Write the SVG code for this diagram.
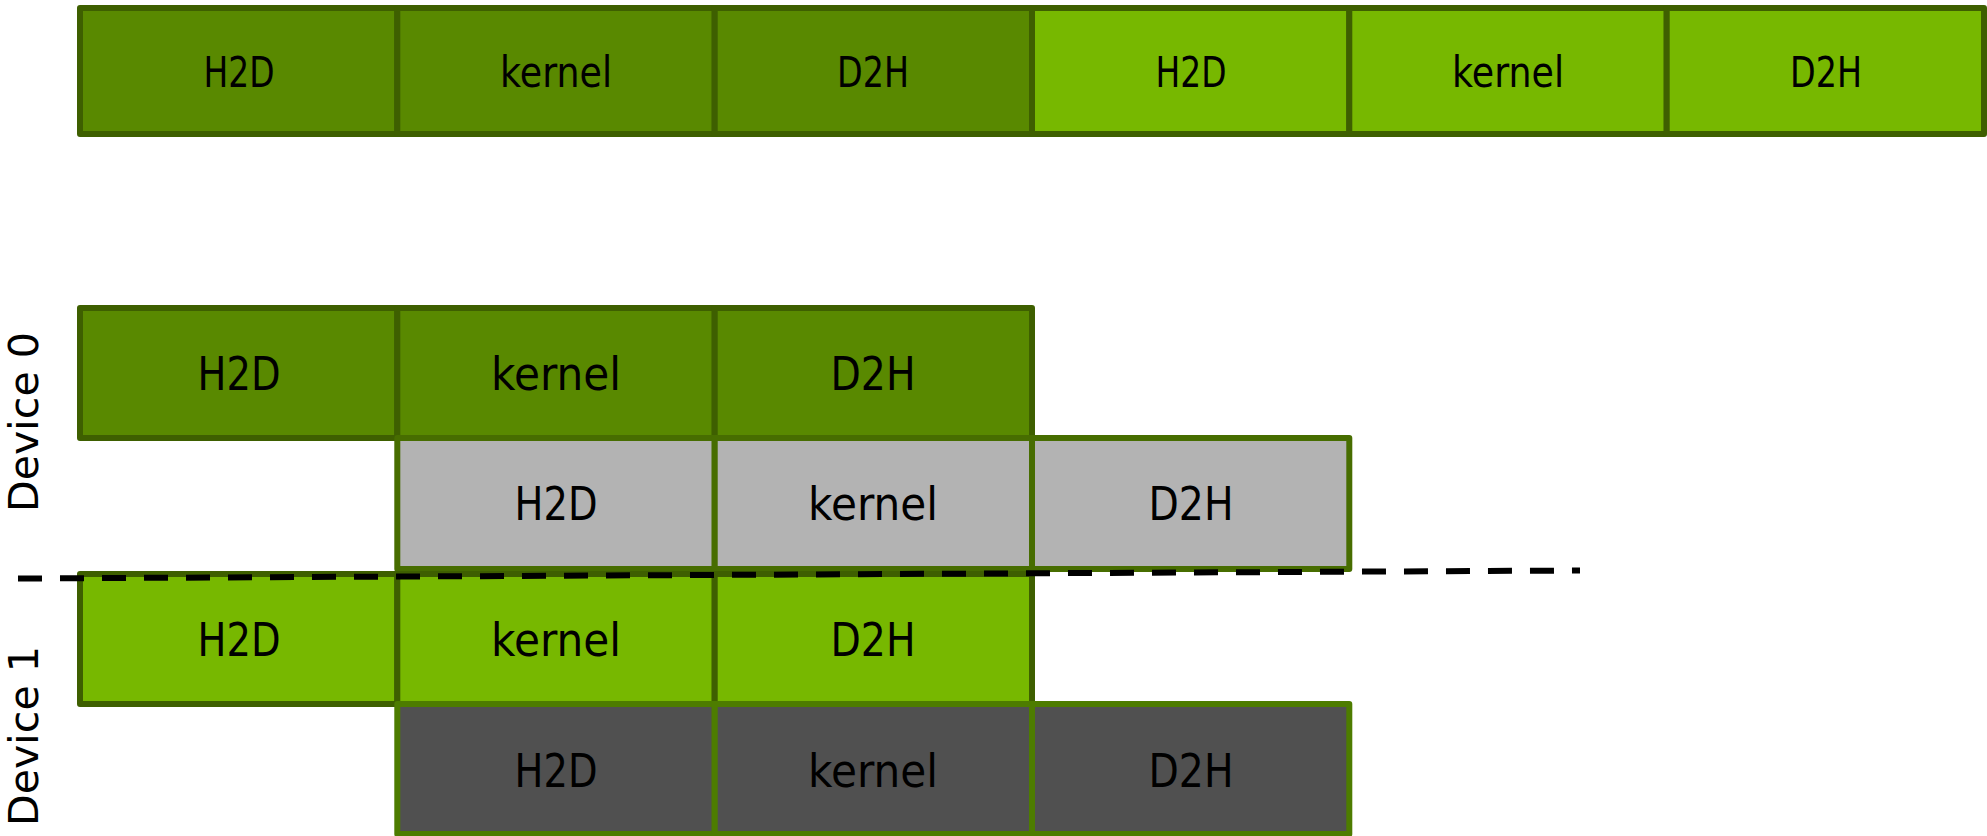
<svg xmlns="http://www.w3.org/2000/svg" width="1987" height="836" viewBox="0 0 1987 836">
<style>
.c{stroke-width:6;stroke-linejoin:round}
.dk{fill:#598900;stroke:#3e5f00}
.br{fill:#77b800;stroke:#3e5f00}
.gy{fill:#b3b3b3;stroke:#476d00}
.dg{fill:#505050;stroke:#4d7c00}
.t{font-family:"DejaVu Sans","Liberation Sans",sans-serif;fill:#000;text-anchor:middle}
.ts{font-size:42px}
.tl{font-size:46px}
.lab{font-family:"DejaVu Sans","Liberation Sans",sans-serif;font-size:40px;fill:#000;text-anchor:middle}
</style>
<rect width="1987" height="836" fill="#fff"/>
<g id="row-top">
<g id="top-h2d-1"><rect class="c dk" x="80" y="8" width="317.3" height="126"/><text class="t ts" x="239" y="87" textLength="71" lengthAdjust="spacingAndGlyphs">H2D</text></g>
<g id="top-kernel-1"><rect class="c dk" x="397.3" y="8" width="317.4" height="126"/><text class="t ts" x="556" y="87" textLength="112" lengthAdjust="spacingAndGlyphs">kernel</text></g>
<g id="top-d2h-1"><rect class="c dk" x="714.7" y="8" width="317.3" height="126"/><text class="t ts" x="873" y="87" textLength="72" lengthAdjust="spacingAndGlyphs">D2H</text></g>
<g id="top-h2d-2"><rect class="c br" x="1032" y="8" width="317.3" height="126"/><text class="t ts" x="1191" y="87" textLength="71" lengthAdjust="spacingAndGlyphs">H2D</text></g>
<g id="top-kernel-2"><rect class="c br" x="1349.3" y="8" width="317.4" height="126"/><text class="t ts" x="1508" y="87" textLength="112" lengthAdjust="spacingAndGlyphs">kernel</text></g>
<g id="top-d2h-2"><rect class="c br" x="1666.7" y="8" width="317.3" height="126"/><text class="t ts" x="1826" y="87" textLength="72" lengthAdjust="spacingAndGlyphs">D2H</text></g>
</g>
<g id="dev0-row1">
<g id="d0r1-h2d"><rect class="c dk" x="80" y="308" width="317.3" height="130"/><text class="t tl" x="239" y="390" textLength="83" lengthAdjust="spacingAndGlyphs">H2D</text></g>
<g id="d0r1-kernel"><rect class="c dk" x="397.3" y="308" width="317.4" height="130"/><text class="t tl" x="556" y="390" textLength="130" lengthAdjust="spacingAndGlyphs">kernel</text></g>
<g id="d0r1-d2h"><rect class="c dk" x="714.7" y="308" width="317.3" height="130"/><text class="t tl" x="873" y="390" textLength="85" lengthAdjust="spacingAndGlyphs">D2H</text></g>
</g>
<g id="dev0-row2">
<g id="d0r2-h2d"><rect class="c gy" x="397.3" y="438" width="317.4" height="131"/><text class="t tl" x="556" y="520" textLength="83" lengthAdjust="spacingAndGlyphs">H2D</text></g>
<g id="d0r2-kernel"><rect class="c gy" x="714.7" y="438" width="317.3" height="131"/><text class="t tl" x="873" y="520" textLength="130" lengthAdjust="spacingAndGlyphs">kernel</text></g>
<g id="d0r2-d2h"><rect class="c gy" x="1032" y="438" width="317.3" height="131"/><text class="t tl" x="1191" y="520" textLength="85" lengthAdjust="spacingAndGlyphs">D2H</text></g>
</g>
<g id="dev1-row1">
<g id="d1r1-h2d"><rect class="c br" x="80" y="574" width="317.3" height="130"/><text class="t tl" x="239" y="656" textLength="83" lengthAdjust="spacingAndGlyphs">H2D</text></g>
<g id="d1r1-kernel"><rect class="c br" x="397.3" y="574" width="317.4" height="130"/><text class="t tl" x="556" y="656" textLength="130" lengthAdjust="spacingAndGlyphs">kernel</text></g>
<g id="d1r1-d2h"><rect class="c br" x="714.7" y="574" width="317.3" height="130"/><text class="t tl" x="873" y="656" textLength="85" lengthAdjust="spacingAndGlyphs">D2H</text></g>
</g>
<g id="dev1-row2">
<g id="d1r2-h2d"><rect class="c dg" x="397.3" y="704" width="317.4" height="130"/><text class="t tl" x="556" y="787" textLength="83" lengthAdjust="spacingAndGlyphs">H2D</text></g>
<g id="d1r2-kernel"><rect class="c dg" x="714.7" y="704" width="317.3" height="130"/><text class="t tl" x="873" y="787" textLength="130" lengthAdjust="spacingAndGlyphs">kernel</text></g>
<g id="d1r2-d2h"><rect class="c dg" x="1032" y="704" width="317.3" height="130"/><text class="t tl" x="1191" y="787" textLength="85" lengthAdjust="spacingAndGlyphs">D2H</text></g>
</g>
<g id="labels">
<text id="label-device0" class="lab" transform="translate(38,422) rotate(-90)" textLength="180" lengthAdjust="spacingAndGlyphs">Device 0</text>
<text id="label-device1" class="lab" transform="translate(38,736) rotate(-90)" textLength="180" lengthAdjust="spacingAndGlyphs">Device 1</text>
</g>
<g id="connectors">
<line x1="18" y1="578.5" x2="1580" y2="570.5" stroke="#000" stroke-width="6" stroke-dasharray="24 18"/>
</g>
</svg>
